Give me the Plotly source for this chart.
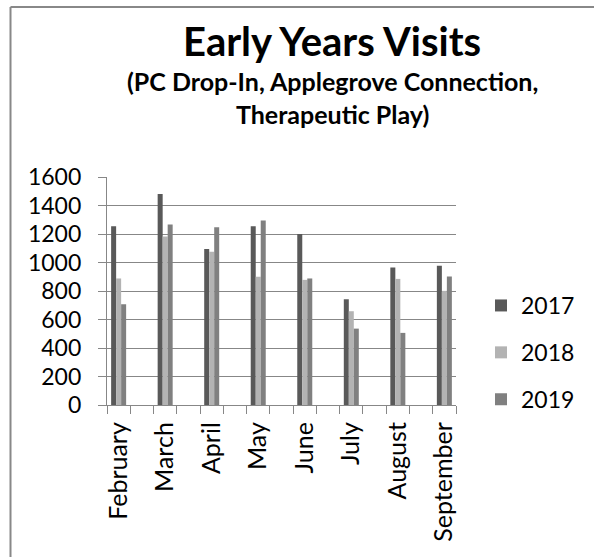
import plotly.graph_objects as go

months = ["February", "March", "April", "May", "June", "July", "August", "September"]
years = ["2017", "2018", "2019"]
v2017 = [1255, 1480, 1095, 1255, 1200, 742, 965, 977]
v2018 = [888, 1183, 1075, 900, 878, 658, 885, 801]
v2019 = [707, 1267, 1248, 1295, 888, 536, 506, 902]
colors = ["#595959", "#b3b3b3", "#808080"]
y_ticks = [0, 200, 400, 600, 800, 1000, 1200, 1400, 1600]

series = [v2017, v2018, v2019]
xpos = [2 * i for i in range(len(months))]
bw = 0.215
offsets = [-1.5 * bw, -0.5 * bw, 0.5 * bw]

fig = go.Figure()
for i, (name, vals) in enumerate(zip(years, series)):
    fig.add_trace(go.Bar(
        x=xpos, y=vals, name=name, width=bw, offset=offsets[i],
        marker=dict(color=colors[i], line=dict(width=0)),
        legendgroup=name,
    ))

L, R, T, B = 107, 138, 177, 152
W, H = 594, 557
pw = W - L - R
ph = H - T - B


def px(x):
    return (x - L) / pw


def py(y):
    return (H - B - y) / ph


FONT = "Lato, Liberation Sans, sans-serif"
GRID = "#878787"

fig.update_layout(
    width=W, height=H,
    margin=dict(l=L, r=R, t=T, b=B, autoexpand=False),
    paper_bgcolor="white", plot_bgcolor="white",
    barmode="overlay",
    font=dict(family=FONT, color="black", size=23),
    showlegend=True,
    legend=dict(
        x=px(481), xanchor="left",
        y=py(284), yanchor="top",
        font=dict(size=23, family=FONT),
        tracegroupgap=14,
        bgcolor="rgba(0,0,0,0)",
    ),
    annotations=[
        dict(text="<b>Early Years Visits</b>", x=px(332), y=py(41),
             xref="paper", yref="paper", showarrow=False, xanchor="center", yanchor="middle",
             font=dict(size=40, family=FONT)),
        dict(text="<b>(PC Drop-In, Applegrove Connection,<br>Therapeutic Play)</b>",
             x=px(332), y=py(97),
             xref="paper", yref="paper", showarrow=False, xanchor="center", yanchor="middle",
             font=dict(size=25, family=FONT)),
    ],
    shapes=[
        dict(type="line", xref="paper", yref="paper",
             x0=px(10.5), x1=px(700), y0=py(7), y1=py(7),
             line=dict(color="#888888", width=2)),
        dict(type="line", xref="paper", yref="paper",
             x0=px(10.5), x1=px(10.5), y0=py(7), y1=py(700),
             line=dict(color="#888888", width=2)),
    ],
)

fig.update_xaxes(
    range=[-0.5, 2 * len(months) - 1.5],
    tickmode="array", tickvals=xpos, ticktext=months,
    tickangle=-90, ticks="", showgrid=False,
    showline=True, linecolor=GRID, linewidth=1.3,
    tickfont=dict(size=25, family=FONT),
    ticklabelstandoff=6,
    minor=dict(tick0=-0.5, dtick=1, ticks="outside", ticklen=8, tickcolor=GRID, tickwidth=1.3, showgrid=False),
    zeroline=False, automargin=False,
)
fig.update_yaxes(
    range=[0, 1600], tickmode="array", tickvals=y_ticks,
    ticks="outside", ticklen=8, tickcolor=GRID, tickwidth=1.3,
    showgrid=True, gridcolor=GRID, gridwidth=1.3,
    showline=True, linecolor=GRID, linewidth=1.3,
    zeroline=False, automargin=False,
    tickfont=dict(size=23, family=FONT),
    ticklabelstandoff=12,
)

fig.write_html(
    "out.html",
    config={"displayModeBar": False},
    post_script="document.body.style.margin='0';document.body.style.overflow='hidden';",
)
